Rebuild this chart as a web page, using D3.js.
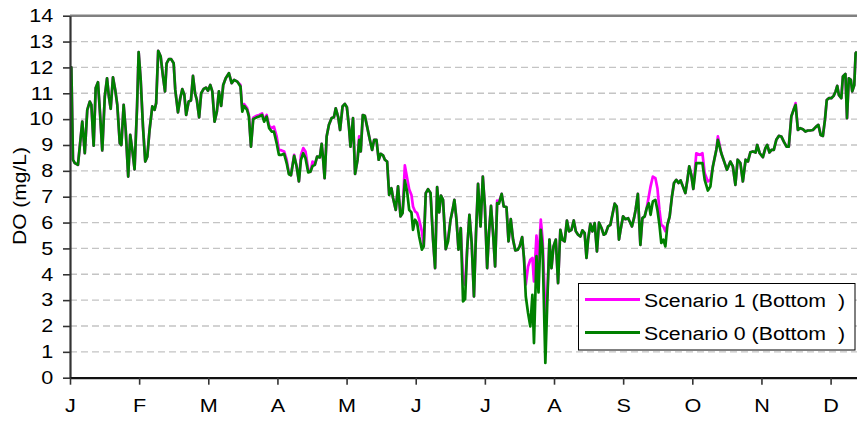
<!DOCTYPE html>
<html>
<head>
<meta charset="utf-8">
<title>DO</title>
<script src="https://cdn.jsdelivr.net/npm/d3@7"></script>
<style>
  body { margin: 0; background: #fff; }
  svg { display: block; font-family: "Liberation Sans", Arial, sans-serif; }
</style>
</head>
<body>
<script>
// month tick labels and y ticks
const monthLabels = ["J", "F", "M", "A", "M", "J", "J", "A", "S", "O", "N", "D"];
const yTicks = d3.range(0, 15);
const seriesNames = ["Scenario 1 (Bottom  )", "Scenario 0 (Bottom  )"];

// day of year for each reading
const days = [
  0, 0.6, 1.3, 2.1, 3.5, 5.4, 6.5, 7.6, 8.7, 9.4,
  10.4, 11.3, 12.3, 13.2, 14.2, 15.3, 16.3, 17.1, 17.9, 18.9,
  19.9, 20.8, 21.9, 22.6, 23.6, 24.5, 25.6, 26.5, 27.4, 28.4,
  29.5, 30.2, 31.1, 32.1, 33.1, 34.0, 35.0, 36.2, 37.2, 37.9,
  38.8, 39.9, 40.9, 41.8, 42.5, 43.5, 44.5, 45.6, 46.3, 47.5,
  48.5, 49.4, 50.3, 51.1, 52.2, 53.2, 54.1, 55.0, 55.8, 56.8,
  57.7, 58.8, 59.8, 60.7, 61.7, 62.6, 63.6, 64.6, 65.5, 66.5,
  67.4, 68.5, 69.9, 71.1, 72.2, 73.6, 75.0, 75.8, 76.6, 77.9,
  78.7, 79.6, 80.6, 82.1, 83.2, 84.5, 85.4, 86.5, 87.6, 88.7,
  89.7, 90.9, 91.9, 93.1, 94.2, 95.3, 96.3, 97.2, 98.6, 99.7,
  100.7, 101.6, 102.6, 103.6, 104.8, 105.8, 106.7, 107.7, 108.7, 109.9,
  110.7, 111.2, 112.0, 112.9, 113.9, 115.1, 116.1, 116.9, 118.0, 118.8,
  119.9, 120.9, 121.8, 122.7, 123.4, 124.5, 125.4, 126.5, 127.2, 127.9,
  128.8, 129.7, 130.7, 131.9, 132.9, 133.8, 134.8, 135.8, 136.7, 137.7,
  138.5, 139.5, 140.4, 141.4, 142.1, 143.3, 144.3, 145.4, 146.3, 147.3,
  148.3, 149.2, 150.2, 150.9, 151.8, 152.7, 153.6, 154.8, 155.6, 156.5,
  157.5, 158.6, 159.7, 160.6, 161.5, 162.4, 163.2, 164.1, 165.3, 166.3,
  167.4, 168.3, 169.1, 170.0, 170.9, 171.9, 172.9, 173.8, 174.7, 175.7,
  176.7, 177.7, 178.6, 179.5, 180.6, 181.6, 182.5, 183.5, 184.3, 185.2,
  186.1, 187.0, 187.9, 188.7, 189.9, 190.8, 192.0, 192.9, 193.9, 194.9,
  195.9, 197.0, 197.8, 198.9, 199.7, 200.5, 201.5, 202.5, 203.4, 204.1,
  205.2, 206.1, 207.1, 207.9, 209.1, 210.0, 210.9, 211.8, 212.7, 213.7,
  214.7, 215.7, 216.6, 217.6, 218.6, 219.5, 220.6, 221.6, 222.5, 223.5,
  224.5, 225.4, 226.4, 227.2, 227.9, 228.9, 229.8, 230.8, 231.8, 232.7,
  233.8, 234.8, 235.6, 236.7, 237.7, 238.6, 239.6, 240.5, 241.5, 242.2,
  243.3, 244.3, 245.5, 246.2, 247.2, 248.1, 248.8, 249.8, 250.9, 251.8,
  252.8, 253.7, 254.6, 255.4, 256.4, 257.5, 258.4, 259.3, 260.1, 261.0,
  261.9, 262.8, 263.8, 264.8, 265.7, 266.7, 267.7, 268.6, 269.6, 270.7,
  271.6, 272.4, 273.3, 274.2, 275.5, 277.0, 278.2, 279.2, 280.6, 281.7,
  282.8, 284.3, 285.0, 286.5, 288.0, 289.0, 290.5, 291.6, 292.7, 293.7,
  294.9, 296.0, 297.2, 298.2, 299.3, 300.4, 301.6, 302.3, 303.4, 304.8,
  305.9, 306.7, 307.7, 308.6, 309.6, 310.7, 311.8, 312.9, 314.0, 315.2,
  316.2, 317.3, 318.3, 319.2, 320.2, 321.2, 322.4, 323.5, 324.6, 325.6,
  326.8, 328.0, 329.2, 330.2, 331.2, 332.1, 332.9, 333.8, 334.9, 335.9,
  336.8, 337.5, 338.2, 339.3, 340.0, 341.1, 341.8, 342.6, 343.5, 344.1,
  345.0, 345.6, 346.2
];

// Scenario 0 (Bottom) DO, mg/L
const scenario0 = [
  12.0, 12.0, 8.43, 8.3, 8.23, 9.9, 8.68, 10.36, 10.68, 10.55,
  8.97, 11.2, 11.43, 10.23, 8.79, 10.87, 11.58, 10.87, 10.4, 11.62,
  11.13, 10.55, 9.07, 9.0, 10.55, 9.58, 7.78, 9.39, 8.81, 8.06,
  10.49, 12.59, 11.52, 9.71, 8.36, 8.55, 9.58, 10.49, 10.36, 10.62,
  12.64, 12.42, 11.65, 11.07, 12.16, 12.32, 12.32, 12.16, 11.13, 10.26,
  10.81, 11.16, 10.94, 10.16, 10.68, 10.72, 11.67, 11.0, 10.74, 10.07,
  11.0, 11.17, 11.22, 11.1, 11.32, 11.07, 9.9, 10.29, 11.07, 10.51,
  11.32, 11.58, 11.78, 11.39, 11.52, 11.45, 11.26, 10.29, 10.51, 10.36,
  10.1, 8.94, 10.0, 10.07, 10.1, 10.16, 9.9, 10.1, 9.65, 9.52,
  9.52, 9.07, 8.62, 8.62, 8.66, 8.3, 7.87, 7.83, 8.58, 8.17,
  7.59, 8.43, 8.68, 8.49, 7.94, 7.97, 8.19, 8.23, 8.55, 8.52,
  9.04, 8.62, 7.72, 9.33, 9.78, 10.04, 10.07, 10.42, 10.07, 9.58,
  10.49, 10.59, 10.46, 9.71, 8.94, 10.04, 7.88, 8.43, 9.2, 8.75,
  10.16, 10.13, 9.71, 9.2, 8.81, 9.2, 9.2, 8.43, 8.66, 8.6,
  8.43, 8.36, 7.07, 7.33, 6.95, 6.49, 7.4, 6.24, 6.37, 7.63,
  7.2, 6.49, 6.39, 5.72, 6.11, 5.98, 5.46, 4.95, 5.08, 7.14,
  7.29, 7.14, 5.34, 4.24, 7.37, 6.39, 7.04, 6.88, 4.97, 5.27,
  6.11, 6.49, 6.88, 6.11, 4.95, 5.79, 2.95, 3.04, 4.95, 6.3,
  5.21, 3.14, 5.59, 7.5, 5.85, 7.78, 6.62, 4.24, 5.59, 6.65,
  5.59, 4.3, 6.75, 6.73, 7.11, 6.62, 6.6, 5.27, 6.13, 5.34,
  4.92, 4.95, 5.08, 5.44, 4.63, 3.14, 2.5, 1.98, 3.2, 1.34,
  4.7, 3.3, 5.72, 4.95, 0.57, 3.02, 5.34, 4.24, 5.08, 5.34,
  3.66, 5.72, 5.34, 5.27, 6.08, 5.66, 5.72, 6.08, 5.66, 5.53,
  5.46, 5.7, 5.59, 4.63, 5.34, 5.95, 5.66, 5.98, 4.88, 6.0,
  5.79, 5.53, 5.57, 5.85, 5.91, 6.3, 6.73, 6.62, 5.34, 5.72,
  6.24, 6.13, 6.17, 6.04, 5.85, 6.17, 6.49, 7.11, 5.14, 6.17,
  6.24, 6.56, 6.75, 6.3, 6.82, 6.88, 6.49, 5.91, 5.21, 5.34,
  5.08, 5.91, 6.24, 7.01, 7.53, 7.65, 7.53, 7.63, 7.4, 7.14,
  7.65, 8.17, 7.85, 7.3, 8.3, 8.3, 8.3, 7.65, 7.24, 7.39,
  8.17, 8.81, 9.2, 8.68, 8.3, 8.04, 8.36, 8.17, 7.46, 8.43,
  8.3, 7.59, 8.43, 8.36, 8.72, 8.75, 8.71, 9.0, 8.68, 8.53,
  8.88, 9.0, 8.71, 8.81, 8.81, 9.2, 9.35, 9.33, 9.13, 8.94,
  8.94, 10.1, 10.36, 10.55, 9.58, 9.65, 9.61, 9.52, 9.56, 9.56,
  9.58, 9.69, 9.78, 9.39, 9.35, 9.97, 10.74, 10.81, 10.81, 10.9,
  11.07, 11.29, 10.94, 10.81, 11.65, 11.75, 10.04, 11.58, 11.52, 11.07,
  11.32, 12.55, 12.61
];

// Scenario 1 (Bottom) DO, mg/L
const scenario1 = [
  12.0, 12.0, 8.43, 8.3, 8.23, 9.9, 8.68, 10.36, 10.68, 10.55,
  8.97, 11.2, 11.43, 10.23, 8.79, 10.87, 11.58, 10.87, 10.4, 11.62,
  11.13, 10.55, 9.07, 9.0, 10.55, 9.58, 7.78, 9.39, 8.81, 8.06,
  10.49, 12.59, 11.52, 9.71, 8.36, 8.55, 9.58, 10.49, 10.36, 10.62,
  12.64, 12.42, 11.65, 11.07, 12.16, 12.32, 12.32, 12.16, 11.13, 10.26,
  10.81, 11.16, 10.94, 10.16, 10.68, 10.72, 11.67, 11.0, 10.74, 10.07,
  11.0, 11.17, 11.22, 11.1, 11.32, 11.07, 9.9, 10.29, 11.07, 10.51,
  11.32, 11.58, 11.78, 11.39, 11.52, 11.45, 11.32, 10.35, 10.58, 10.43,
  10.16, 8.94, 10.06, 10.13, 10.16, 10.22, 9.97, 10.16, 9.75, 9.65,
  9.71, 9.33, 8.81, 8.79, 8.75, 8.43, 7.9, 7.83, 8.62, 8.17,
  7.59, 8.62, 8.88, 8.75, 8.04, 7.97, 8.36, 8.23, 8.55, 8.52,
  9.04, 8.62, 7.72, 9.33, 9.78, 10.04, 10.07, 10.42, 10.07, 9.58,
  10.49, 10.59, 10.46, 9.71, 8.94, 10.04, 7.88, 8.43, 9.33, 8.75,
  10.16, 10.13, 9.71, 9.2, 8.81, 9.2, 9.2, 8.43, 8.66, 8.6,
  8.43, 8.36, 7.07, 7.33, 6.95, 6.49, 7.4, 6.24, 6.37, 8.21,
  7.72, 7.29, 7.07, 6.62, 6.43, 6.37, 6.11, 5.66, 5.08, 7.14,
  7.29, 7.14, 5.34, 4.24, 7.37, 6.39, 7.04, 6.88, 4.97, 5.4,
  6.11, 6.49, 6.88, 6.11, 4.95, 5.79, 3.79, 3.6, 4.95, 6.3,
  5.21, 3.14, 5.59, 7.5, 5.85, 7.78, 6.62, 4.24, 5.59, 6.65,
  5.59, 4.3, 6.85, 6.8, 7.11, 6.62, 6.6, 5.27, 6.13, 5.34,
  4.92, 4.95, 5.08, 5.44, 4.63, 3.6, 4.3, 4.56, 4.63, 3.72,
  5.5, 4.5, 6.11, 5.34, 2.5, 3.2, 5.34, 4.24, 5.08, 5.34,
  3.66, 5.72, 5.34, 5.27, 6.08, 5.66, 5.72, 6.08, 5.66, 5.53,
  5.46, 5.7, 5.59, 4.63, 5.34, 5.95, 5.66, 5.98, 4.88, 6.0,
  5.79, 5.53, 5.57, 5.85, 5.91, 6.3, 6.73, 6.62, 5.34, 5.72,
  6.24, 6.13, 6.17, 6.04, 5.85, 6.17, 6.49, 7.11, 5.14, 6.17,
  6.24, 6.56, 7.01, 7.4, 7.78, 7.72, 7.33, 6.49, 5.91, 5.85,
  5.66, 5.91, 6.24, 7.01, 7.53, 7.65, 7.53, 7.63, 7.4, 7.14,
  7.65, 8.17, 7.85, 7.3, 8.68, 8.62, 8.68, 7.91, 7.59, 7.65,
  8.17, 8.81, 9.33, 8.68, 8.3, 8.04, 8.36, 8.17, 7.46, 8.43,
  8.3, 7.59, 8.43, 8.36, 8.72, 8.75, 8.71, 9.0, 8.68, 8.53,
  8.88, 9.0, 8.71, 8.81, 8.81, 9.2, 9.35, 9.33, 9.13, 8.94,
  8.94, 10.1, 10.36, 10.62, 9.58, 9.65, 9.61, 9.52, 9.56, 9.56,
  9.58, 9.69, 9.78, 9.39, 9.35, 9.97, 10.74, 10.81, 10.81, 10.9,
  11.07, 11.29, 10.94, 10.81, 11.65, 11.75, 10.04, 11.58, 11.52, 11.07,
  11.32, 12.55, 12.61
];

var width = 857, height = 423;
var plotLeft = 70, plotRight = 857, plotTop = 15.7, plotBottom = 377.7;

var svg = d3.select("body").append("svg")
  .attr("width", width)
  .attr("height", height);

var x = d3.scaleLinear().domain([0, 346.2]).range([plotLeft, plotRight]);
var y = d3.scaleLinear().domain([0, 14]).range([plotBottom, plotTop]);

// dashed gridlines
svg.append("g")
  .selectAll("line")
  .data(yTicks.filter(d => d > 0 && d < 14))
  .enter().append("line")
  .attr("x1", plotLeft).attr("x2", plotRight)
  .attr("y1", d => y(d)).attr("y2", d => y(d))
  .attr("stroke", "#c4c4c4")
  .attr("stroke-width", 1.3)
  .attr("stroke-dasharray", "7,4");

// top border of plot area
svg.append("line")
  .attr("x1", plotLeft).attr("x2", plotRight)
  .attr("y1", y(14)).attr("y2", y(14))
  .attr("stroke", "#808080")
  .attr("stroke-width", 2.5);

// series lines: scenario 1 underneath
var lineGen = vals => d3.line()
  .x((d, i) => x(days[i]))
  .y(d => y(d))(vals);

svg.append("path")
  .attr("d", lineGen(scenario1))
  .attr("fill", "none")
  .attr("stroke", "#ff00ff")
  .attr("stroke-width", 2.7)
  .attr("stroke-linejoin", "round");

svg.append("path")
  .attr("d", lineGen(scenario0))
  .attr("fill", "none")
  .attr("stroke", "#008000")
  .attr("stroke-width", 2.7)
  .attr("stroke-linejoin", "round");

// y axis
var yAxis = svg.append("g")
  .attr("transform", "translate(" + plotLeft + ",0)")
  .call(d3.axisLeft(y).tickValues(yTicks).tickSize(7).tickSizeOuter(0));
yAxis.select(".domain").attr("stroke", "#333").attr("stroke-width", 2.2);
yAxis.selectAll(".tick line").attr("stroke", "#333").attr("stroke-width", 1.6);
yAxis.selectAll(".tick text")
  .attr("x", -14)
  .attr("transform", "scale(1.2,1)")
  .attr("fill", "#000")
  .style("font-size", "18px")
  .style("font-family", "Liberation Sans, Arial, sans-serif");

// x axis with month ticks
var monthTicks = d3.range(12).map(i => i * 365 / 12);
var xAxis = svg.append("g")
  .attr("transform", "translate(0," + plotBottom + ")")
  .call(d3.axisBottom(x).tickValues(monthTicks)
    .tickFormat((d, i) => monthLabels[i])
    .tickSize(7).tickSizeOuter(0).tickPadding(15));
xAxis.select(".domain").attr("stroke", "#111").attr("stroke-width", 2.2);
xAxis.selectAll(".tick line").attr("stroke", "#333").attr("stroke-width", 1.6);
xAxis.selectAll(".tick text")
  .attr("transform", "scale(1.2,1)")
  .attr("fill", "#000")
  .style("font-size", "18px")
  .style("font-family", "Liberation Sans, Arial, sans-serif");

// y title
svg.append("text")
  .attr("transform", "translate(26,196) rotate(-90)")
  .attr("text-anchor", "middle")
  .attr("textLength", 98)
  .attr("lengthAdjust", "spacingAndGlyphs")
  .style("font-size", "18px")
  .text("DO (mg/L)");

// legend
var legend = svg.append("g");
legend.append("rect")
  .attr("x", 578.5).attr("y", 283.5)
  .attr("width", 276.5).attr("height", 66.5)
  .attr("fill", "#fff")
  .attr("stroke", "#000")
  .attr("stroke-width", 1);

var legendColors = ["#ff00ff", "#008000"];
seriesNames.forEach(function (name, i) {
  var ly = 299.5 + i * 33;
  legend.append("line")
    .attr("x1", 585).attr("x2", 640)
    .attr("y1", ly).attr("y2", ly)
    .attr("stroke", legendColors[i])
    .attr("stroke-width", 3);
  legend.append("text")
    .attr("x", 644).attr("y", ly + 7.2)
    .attr("textLength", 201)
    .attr("lengthAdjust", "spacingAndGlyphs")
    .style("white-space", "pre")
    .style("font-size", "18px")
    .text(name);
});
</script>
</body>
</html>
